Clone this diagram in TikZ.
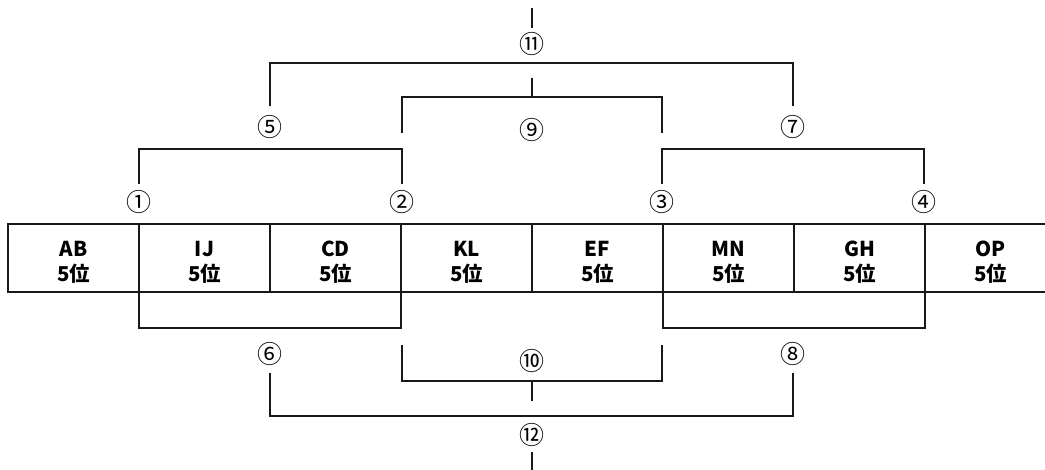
\documentclass[tikz,border=0pt]{standalone}
\usepackage{fontspec}
\setmainfont{Noto Sans CJK JP}
\tikzset{
  cell/.style={draw=black!90, line width=2.8pt, minimum width=131pt, minimum height=68pt,
    inner sep=0pt, outer sep=0pt, align=center, font=\fontsize{20.5pt}{25pt}\selectfont\bfseries},
  num/.style={inner sep=0pt, font=\fontsize{25pt}{25pt}\selectfont},
  br/.style={draw=black!90, line width=2.5pt}
}
\begin{document}
\begin{tikzpicture}[x=1pt,y=-1pt]
\useasboundingbox (0,0) rectangle (1045,470);
\clip (0,0) rectangle (1045,470);
% cells
\foreach \i/\t in {0/AB,1/IJ,2/CD,3/KL,4/EF,5/MN,6/GH,7/OP}{
  \node[cell] (c\i) at ({8+131*\i+65.5},258) {\rule{0pt}{24pt}\t\\5位};
}
% labels
\node[num] (n1) at (139,202) {①};
\node[num] (n2) at (402,202) {②};
\node[num] (n3) at (662,202) {③};
\node[num] (n4) at (924,202) {④};
\node[num] (n5) at (270,127) {⑤};
\node[num] (n7) at (793,127) {⑦};
\node[num] (n9) at (532,130) {⑨};
\node[num] (n11) at (532,44) {⑪};
\node[num] (n6) at (270,354) {⑥};
\node[num] (n8) at (793,354) {⑧};
\node[num] (n10) at (532,361) {⑩};
\node[num] (n12) at (532,435) {⑫};
% top brackets
\draw[br] (139,184) -- (139,149) -- (402,149) -- (402,184);
\draw[br] (662,184) -- (662,149) -- (924,149) -- (924,184);
\draw[br] (402,133) -- (402,97) -- (662,97) -- (662,133);
\draw[br] (532,97) -- (532,78);
\draw[br] (270,106) -- (270,63) -- (793,63) -- (793,106);
\draw[br] (532,28) -- (532,8);
% bottom brackets
\draw[br] (c1.south west) -- (c1.south west |- 0,328) -- (c2.south east |- 0,328) -- (c2.south east);
\draw[br] (c5.south west) -- (c5.south west |- 0,328) -- (c6.south east |- 0,328) -- (c6.south east);
\draw[br] (402,345) -- (402,381) -- (662,381) -- (662,345);
\draw[br] (532,381) -- (532,401);
\draw[br] (270,373) -- (270,416) -- (793,416) -- (793,373);
\draw[br] (532,452) -- (532,472);
\end{tikzpicture}
\end{document}
